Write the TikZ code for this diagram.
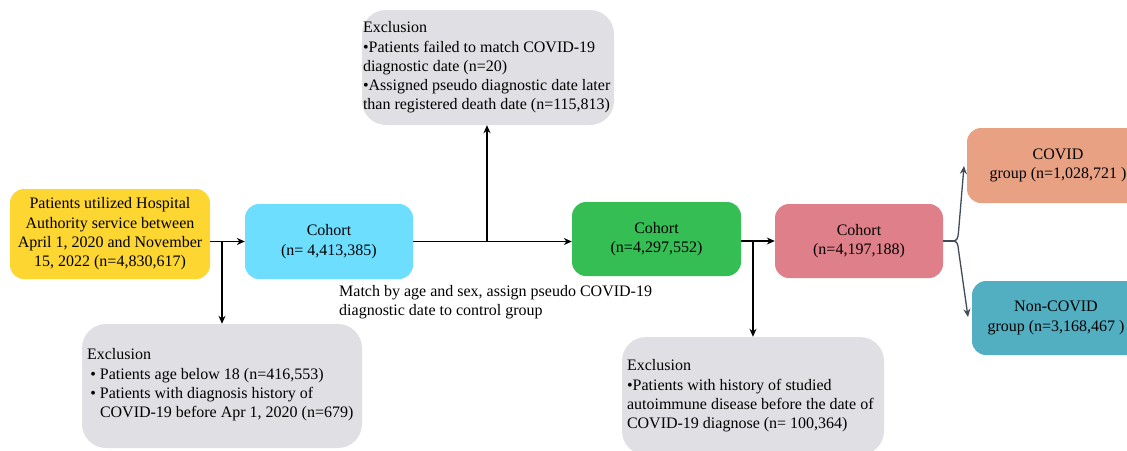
\documentclass[tikz,border=0pt]{standalone}
\usepackage{fontspec}
\setmainfont{Liberation Serif}
\usetikzlibrary{arrows.meta}
\definecolor{cyellow}{RGB}{253,214,50}
\definecolor{cblue}{RGB}{110,222,255}
\definecolor{cgreen}{RGB}{52,190,84}
\definecolor{cred}{RGB}{223,127,137}
\definecolor{csalmon}{RGB}{233,161,131}
\definecolor{cteal}{RGB}{82,175,193}
\definecolor{cgray}{RGB}{224,224,228}
\definecolor{cslate}{RGB}{64,74,88}
\begin{document}
\begin{tikzpicture}[x=1pt,y=-1pt,
  font=\fontsize{16}{19.3}\selectfont,
  box/.style={rounded corners=14pt, inner sep=1pt, align=center},
  excl/.style={fill=cgray, rounded corners=24pt, inner sep=0pt},
  txt/.style={anchor=west, align=left, inner sep=0pt},
  conn/.style={line width=1.3pt, -{Stealth[length=8pt,width=7pt]}},
  sconn/.style={conn, draw=cslate}]
\useasboundingbox (0,0) rectangle (1127,450);
\clip (0,0) rectangle (1127,450);

\node[box, fill=cyellow, minimum width=200pt, minimum height=90pt] (src) at (110,234)
  {Patients utilized Hospital\\Authority service between\\April 1, 2020 and November\\15, 2022 (n=4,830,617)};
\node[box, fill=cblue, minimum width=168pt, minimum height=75pt] (coh1) at (329,241.5)
  {Cohort\\(n= 4,413,385)};
\node[box, fill=cgreen, minimum width=169pt, minimum height=74pt] (coh2) at (656.5,239)
  {Cohort\\(n=4,297,552)};
\node[box, fill=cred, minimum width=168pt, minimum height=74pt] (coh3) at (859,241)
  {Cohort\\(n=4,197,188)};
\node[box, fill=csalmon, minimum width=182pt, minimum height=75pt] (covid) at (1058,165.5)
  {COVID\\group (n=1,028,721 )};
\node[box, fill=cteal, minimum width=168pt, minimum height=74pt] (noncovid) at (1056,318)
  {Non-COVID\\group (n=3,168,467 )};

\node[excl, minimum width=252pt, minimum height=115pt] (ex1) at (488,67.5) {};
\node[txt] (ex1t) at ([xshift=1pt]ex1.west)
  {Exclusion\\\textbullet Patients failed to match COVID-19\\diagnostic date (n=20)\\\textbullet Assigned pseudo diagnostic date later\\than registered death date (n=115,813)};
\node[excl, minimum width=280pt, minimum height=124pt] (ex2) at (222,386) {};
\node[txt] (ex2t) at ([xshift=5pt,yshift=1pt]ex2.west)
  {Exclusion\\
   \makebox[13pt][r]{\textbullet\hspace{4pt}}Patients age below 18 (n=416,553)\\
   \makebox[13pt][r]{\textbullet\hspace{4pt}}Patients with diagnosis history of\\
   \hspace*{13pt}COVID-19 before Apr 1, 2020 (n=679)};
\node[excl, minimum width=262pt, minimum height=118pt] (ex3) at (753,396) {};
\node[txt] (ex3t) at ([xshift=5pt]ex3.west)
  {Exclusion\\\textbullet Patients with history of studied\\autoimmune disease before the date of\\COVID-19 diagnose (n= 100,364)};

\node[anchor=north west, align=left, inner sep=0pt] (note) at (339,285)
  {Match by age and sex, assign pseudo COVID-19\\diagnostic date to control group};

% main flow
\draw[conn] (src.east |- coh1) -- (coh1.west);
\coordinate (b1) at (222,241);
\draw[conn] (b1) -- (ex2.north -| b1);

\draw[conn] (coh1.east) -- (coh2.west |- coh1);
\coordinate (b2) at (487,241);
\draw[conn] (b2) -- (ex1.south -| b2);

\draw[conn] (coh2.east |- coh3) -- (coh3.west);
\coordinate (b3) at (753,241);
\draw[conn] (b3) -- (ex3.north -| b3);

% split to groups
\coordinate (j) at (953,241);
\coordinate (tu) at (964,166);
\coordinate (td) at (968,317);
\draw[line width=1.3pt, cslate] (coh3.east) -- (j);
\draw[sconn] (j) .. controls (957,241) and (958,238) .. (958.5,232) -- (tu);
\draw[sconn] (j) .. controls (957,241) and (958,244) .. (958.5,250) -- (td);
\end{tikzpicture}
\end{document}
